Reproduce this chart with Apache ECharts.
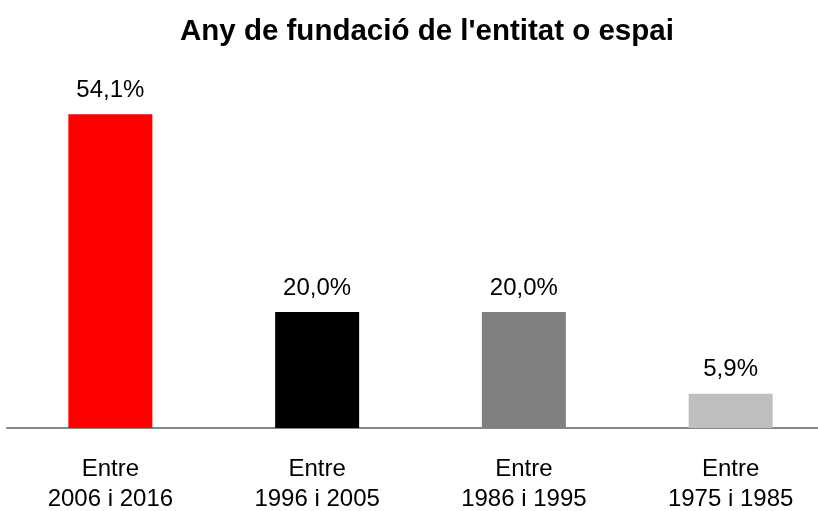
<!DOCTYPE html>
<html>
<head>
<meta charset="utf-8">
<script src="https://cdn.jsdelivr.net/npm/echarts@6/dist/echarts.min.js"></script>
<style>
  html, body { margin: 0; padding: 0; background: #fff; }
  #chart { width: 818px; height: 511px; }
</style>
</head>
<body>
<div id="chart"></div>
<script>
const categories = ['Entre\n2006 i 2016', 'Entre\n1996 i 2005', 'Entre\n1986 i 1995', 'Entre\n1975 i 1985']
const values     = [54.1, 20.0, 20.0, 5.9]
const barColors  = ['#ff0000', '#000000', '#808080', '#bfbfbf']

const font = 'Liberation Sans, Arial, sans-serif'

const chart = echarts.init(document.getElementById('chart'))
chart.setOption({
  animation: false,
  title: {
    text: "Any de fundació de l'entitat o espai",
    left: 175,
    top: 12,
    textStyle: { fontFamily: font, fontSize: 29.5, fontWeight: 'bold', color: '#000' },
  },
  // the plot runs a little past the right edge, as in the original
  grid: { left: 7, width: 827, top: 80, bottom: 83, outerBoundsMode: 'none', containLabel: false },
  xAxis: {
    type: 'category',
    data: categories,
    axisLine: { lineStyle: { color: '#878787', width: 2 } },
    axisTick: { show: false },
    axisLabel: {
      fontFamily: font, fontSize: 24, color: '#000',
      lineHeight: 30, margin: 26, interval: 0,
    },
  },
  yAxis: {
    type: 'value',
    min: 0,
    max: 60,
    show: false,
    splitLine: { show: false },
  },
  series: [{
    type: 'bar',
    barWidth: 84,
    data: values.map((v, i) => ({ value: v, itemStyle: { color: barColors[i] } })),
    label: {
      show: true,
      position: 'top',
      distance: 12,
      fontFamily: font, fontSize: 24, color: '#000',
      formatter: p => p.value.toFixed(1).replace('.', ',') + '%',
    },
  }],
})
</script>
</body>
</html>
